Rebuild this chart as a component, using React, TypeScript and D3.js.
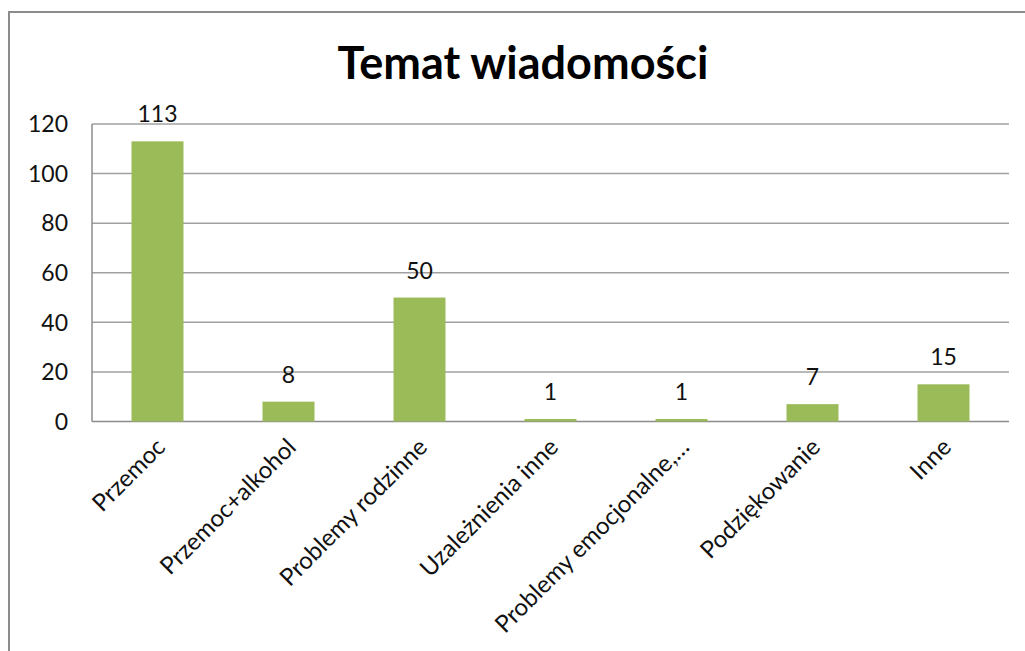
import React from "react";
import * as d3 from "d3";

const title = "Temat wiadomości";
const categories = [
  "Przemoc",
  "Przemoc+alkohol",
  "Problemy rodzinne",
  "Uzależnienia inne",
  "Problemy emocjonalne,…",
  "Podziękowanie",
  "Inne",
];
const values = [113, 8, 50, 1, 1, 7, 15];
const yTicks = [0, 20, 40, 60, 80, 100, 120];

const W = 1025;
const H = 651;
const FONT = "Lato, 'Open Sans', sans-serif";

export default function App() {
  const left = 92;
  const right = 1009;
  const top = 124;
  const bottom = 421.5;

  const band = d3.scaleBand<string>().domain(categories).range([left, right]);
  const y = d3.scaleLinear().domain([0, 120]).range([bottom, top]);

  return (
    <svg width={W} height={H} style={{ position: "absolute", left: 0, top: 0, background: "#fff" }} fontFamily={FONT}>
      <rect x={9} y={12} width={W + 10} height={H + 10} fill="#fff" stroke="#8c8c8c" strokeWidth={2} />
      <text x={523} y={79} textAnchor="middle" fontSize={45} fontWeight="bold" fill="#000">
        {title}
      </text>
      {yTicks.map((t) => (
        <g key={t}>
          <line x1={left} x2={right} y1={y(t)} y2={y(t)} stroke={t === 0 ? "#8c8c8c" : "#a0a0a0"} strokeWidth={1.5} />
          <text x={68} y={y(t)} dy="0.36em" textAnchor="end" fontSize={23} fill="#111">
            {t}
          </text>
        </g>
      ))}
      <line x1={left} x2={left} y1={top} y2={bottom} stroke="#8c8c8c" strokeWidth={1.5} />
      {categories.map((c, i) => {
        const cx = (band(c) as number) + band.bandwidth() / 2;
        const bw = 52;
        return (
          <g key={c}>
            <rect x={cx - bw / 2} y={y(values[i])} width={bw} height={bottom - y(values[i])} fill="#9bbb59" />
            <text x={cx} y={y(values[i]) - 19} textAnchor="middle" fontSize={23} fill="#111">
              {values[i]}
            </text>
            <text
              transform={`translate(${cx + 3},${bottom + 21}) rotate(-45)`}
              textAnchor="end"
              dy="0.36em"
              fontSize={24}
              fill="#111"
            >
              {c}
            </text>
          </g>
        );
      })}
    </svg>
  );
}
